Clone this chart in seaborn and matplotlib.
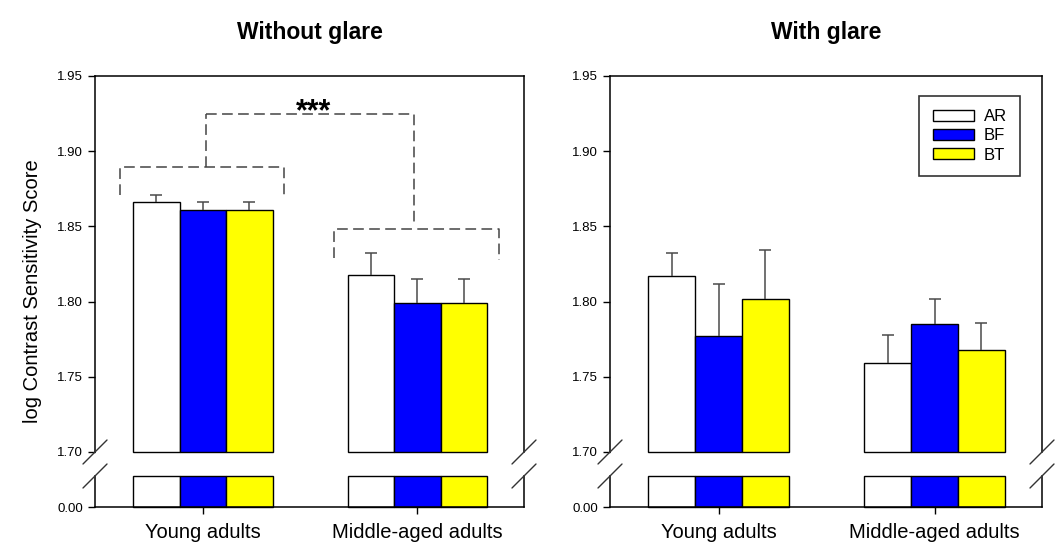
import numpy as np
import pandas as pd
import matplotlib
matplotlib.use("Agg")
import matplotlib.pyplot as plt
from matplotlib.lines import Line2D
from matplotlib.patches import Patch
import seaborn as sns

# ---------------- data ----------------
groups = ["Young adults", "Middle-aged adults"]
lenses = ["AR", "BF", "BT"]
lens_colors = ["#FFFFFF", "#0000FF", "#FFFF00"]

no_glare_AR = [1.866, 1.818]
no_glare_BF = [1.861, 1.799]
no_glare_BT = [1.861, 1.799]
no_glare_err_AR = [0.0047, 0.0144]
no_glare_err_BF = [0.0053, 0.0160]
no_glare_err_BT = [0.0053, 0.0160]

glare_AR = [1.817, 1.759]
glare_BF = [1.777, 1.785]
glare_BT = [1.802, 1.768]
glare_err_AR = [0.015, 0.019]
glare_err_BF = [0.035, 0.017]
glare_err_BT = [0.032, 0.0176]

panel_titles = ["Without glare", "With glare"]
upper_ticks = [1.70, 1.75, 1.80, 1.85, 1.90, 1.95]
lower_ticks = [0.00]
y_label = "log Contrast Sensitivity Score"
significance = "***"

# ---------------- style ----------------
sns.set_style("white")
plt.rcParams["font.family"] = ["Liberation Sans", "DejaVu Sans"]
plt.rcParams["axes.edgecolor"] = "black"
plt.rcParams["text.color"] = "black"
plt.rcParams["xtick.color"] = "black"
plt.rcParams["ytick.color"] = "black"
plt.rcParams["axes.labelcolor"] = "black"

W, H = 1063, 544
fig = plt.figure(figsize=(W / 100, H / 100), dpi=100)
fig.patch.set_facecolor("white")

UP_LO, UP_HI = 1.70, 1.95
LO_TOP = 0.20
XLIM = (-0.503, 1.497)


def fx(px):
    return px / W


def fy(py):
    return 1 - py / H


def make_df(ar, bf, bt):
    rows = []
    for lens, vals in zip(lenses, [ar, bf, bt]):
        for g, v in zip(groups, vals):
            rows.append({"group": g, "lens": lens, "value": v})
    return pd.DataFrame(rows)


def draw_panel(left_px, width_px, df, errs, title):
    ax_up = fig.add_axes([fx(left_px), fy(452), fx(width_px), (452 - 76) / H])
    ax_lo = fig.add_axes([fx(left_px), fy(507), fx(width_px), (507 - 476) / H])
    pal = dict(zip(lenses, lens_colors))
    for ax in (ax_up, ax_lo):
        sns.barplot(data=df, x="group", y="value", hue="lens", order=groups,
                    hue_order=lenses, palette=pal, saturation=1, width=0.65,
                    edgecolor="black", linewidth=1.0, errorbar=None,
                    legend=False, ax=ax)
        ax.set_xlim(*XLIM)
        ax.set_xlabel("")
        ax.set_ylabel("")
        ax.set_facecolor("white")
        for s in ax.spines.values():
            s.set_linewidth(1.1)
            s.set_color("black")
    # upper part: bars start at the axis break
    ax_up.set_ylim(UP_LO, UP_HI)
    for p in ax_up.patches:
        h = p.get_height()
        p.set_y(UP_LO)
        p.set_height(h - UP_LO)
        p.set_clip_on(False)
    ax_lo.set_ylim(0, LO_TOP)
    for p in ax_lo.patches:
        p.set_height(min(p.get_height(), LO_TOP))
        p.set_clip_on(False)

    # error bars (upper side only)
    for cont, e in zip(ax_up.containers, errs):
        xs = [p.get_x() + p.get_width() / 2 for p in cont]
        ys = [p.get_y() + p.get_height() for p in cont]
        eb = ax_up.errorbar(xs, ys, yerr=[np.zeros(len(e)), e], fmt="none",
                            ecolor="#4a4a4a", elinewidth=1.1, capsize=4,
                            capthick=1.1, clip_on=False)
        eb.lines[1][0].set_visible(False)

    ax_up.spines["bottom"].set_visible(False)
    ax_up.set_yticks(upper_ticks)
    ax_up.set_yticklabels([f"{t:.2f}" for t in upper_ticks])
    ax_up.tick_params(axis="x", bottom=False, labelbottom=False)
    ax_up.tick_params(axis="y", left=True, direction="out", length=5,
                      width=1, labelsize=9.5, pad=3.5, colors="black")

    ax_lo.spines["top"].set_visible(False)
    ax_lo.set_yticks(lower_ticks)
    ax_lo.set_yticklabels([f"{t:.2f}" for t in lower_ticks])
    ax_lo.tick_params(axis="y", left=True, direction="out", length=5,
                      width=1, labelsize=9.5, pad=3.5, colors="black")
    ax_lo.tick_params(axis="x", bottom=True, direction="out", length=5,
                      width=1, labelsize=14.5, pad=6.5, colors="black")

    # break marks
    d = 12
    for xpx in (left_px, left_px + width_px):
        for ypx in (452, 476):
            fig.add_artist(Line2D([fx(xpx - d), fx(xpx + d)],
                                  [fy(ypx + d), fy(ypx - d)],
                                  transform=fig.transFigure,
                                  color="#333333", lw=1.0))
    fig.text(fx(left_px + width_px / 2), fy(33), title, ha="center",
             va="center", fontsize=16.5, fontweight="bold", color="black")
    return ax_up, ax_lo


df1 = make_df(no_glare_AR, no_glare_BF, no_glare_BT)
df2 = make_df(glare_AR, glare_BF, glare_BT)
errs1 = [no_glare_err_AR, no_glare_err_BF, no_glare_err_BT]
errs2 = [glare_err_AR, glare_err_BF, glare_err_BT]

axL, axLlo = draw_panel(95, 429, df1, errs1, panel_titles[0])
axR, axRlo = draw_panel(610, 432, df2, errs2, panel_titles[1])

# significance brackets (left panel)
bk = dict(color="#444444", lw=1.1, linestyle=(0, (7, 3.5)), clip_on=False)
axL.plot([-0.387, -0.387, 0.380, 0.380], [1.8707, 1.8897, 1.8897, 1.8707], **bk)
axL.plot([0.0126, 0.0126], [1.8897, 1.9245], **bk)
axL.plot([0.0126, 0.985, 0.985], [1.9245, 1.9245, 1.8521], **bk)
axL.plot([0.6126, 0.6126, 1.38, 1.38], [1.8292, 1.8481, 1.8481, 1.8277], **bk)
axL.text(0.516, 1.9207, significance, ha="center", va="baseline",
         fontsize=22, fontweight="bold", color="black")

# y label
fig.text(fx(33), fy(291.5), y_label, rotation=90, ha="center", va="center",
         fontsize=14.5, color="black")

# legend
handles = [Patch(facecolor=c, edgecolor="black", linewidth=1.0) for c in lens_colors]
leg = fig.legend(handles, lenses, loc="upper right",
                 bbox_to_anchor=(fx(1020), fy(96)), bbox_transform=fig.transFigure,
                 frameon=True, fancybox=False, edgecolor="black", fontsize=12,
                 handlelength=2.45, handleheight=0.65, labelspacing=0.25,
                 handletextpad=0.6, borderpad=0.8, borderaxespad=0,
                 labelcolor="black")
leg.get_frame().set_linewidth(1.2)

fig.savefig("out.png", dpi=100, facecolor="white")
